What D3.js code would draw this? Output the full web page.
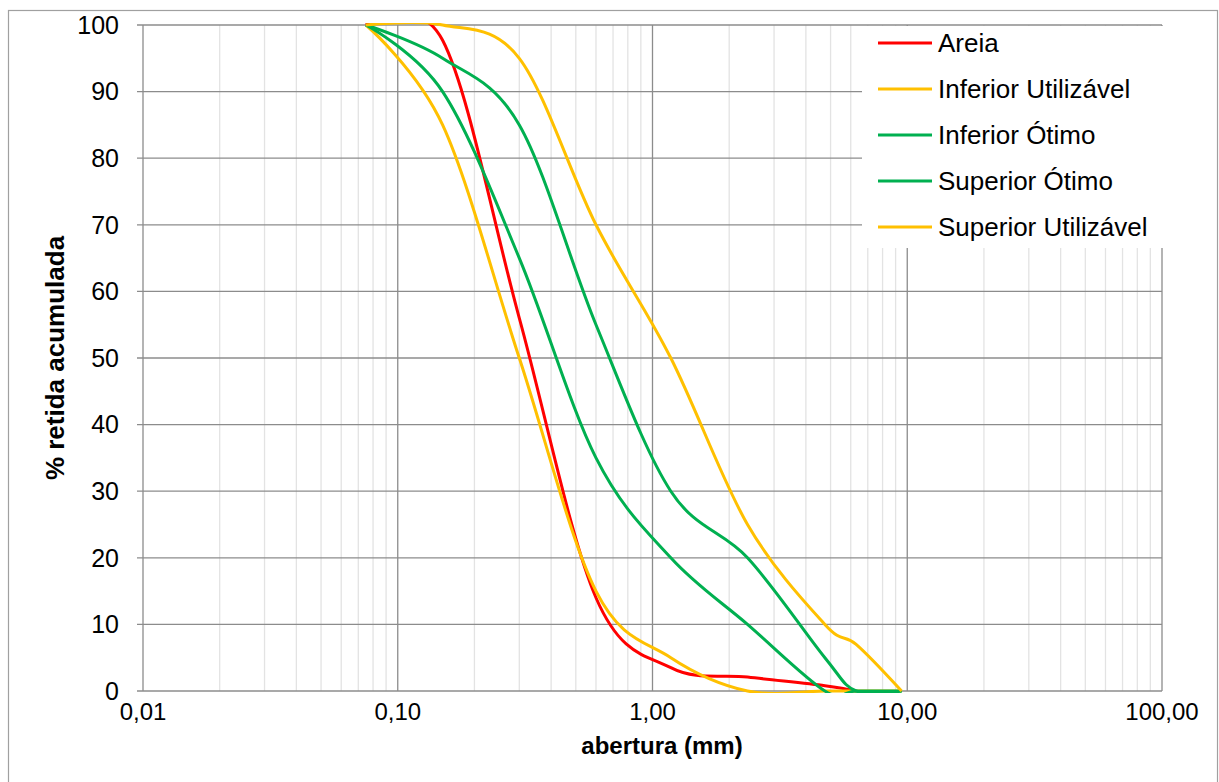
<!DOCTYPE html>
<html>
<head>
<meta charset="utf-8">
<script src="https://cdn.jsdelivr.net/npm/d3@7"></script>
<style>
  body { margin: 0; background: white; }
  text { font-family: Arial, "Liberation Sans", sans-serif; }
</style>
</head>
<body>
<div id="chart"></div>
<script>

// data (sieve openings in mm, % retained)
const sieves = [9.5, 6.3, 4.75, 2.36, 1.18, 0.6, 0.3, 0.15, 0.075];
const infUtil = [0, 0, 0, 0, 5, 15, 50, 85, 100];
const infOtimo = [0, 0, 0, 10, 20, 35, 65, 90, 100];
const supOtimo = [0, 0, 5, 20, 30, 55, 85, 95, 100];
const supUtil = [0, 7, 10, 25, 50, 70, 95, 100, 100];

const areiaSieves = [6.3, 4.75, 2.36, 1.18, 0.6, 0.3, 0.15, 0.075];
const areia = [0, 0.8, 2.1, 3.5, 14, 56, 97.7, 100];

const seriesNames = ["Areia", "Inferior Utilizável", "Inferior Ótimo", "Superior Ótimo", "Superior Utilizável"];
const seriesColors = ["#ff0000", "#ffc000", "#00b050", "#00b050", "#ffc000"];

const xTicks = [0.01, 0.1, 1, 10, 100];
const yTicks = [0, 10, 20, 30, 40, 50, 60, 70, 80, 90, 100];

//SVG
const width = 1219;
const height = 782;
const margin = {t: 25, b: 91, l: 143, r: 57};

const svg = d3.select("#chart")
    .append("svg")
    .attr("width", width)
    .attr("height", height)
    .style("background-color", "white");

const x = d3.scaleLog()
    .domain([0.01, 100])
    .range([margin.l, width - margin.r]);

const y = d3.scaleLinear()
    .domain([0, 100])
    .range([height - margin.b, margin.t]);

const ptBR = d3.formatLocale({decimal: ",", thousands: ".", grouping: [3], currency: ["R$", ""]});
const fmt = ptBR.format(".2f");

// lines are clipped to the plot area, like the spreadsheet does
svg.append("clipPath")
    .attr("id", "plotclip")
    .append("rect")
    .attr("x", x(0.01) - 2).attr("y", y(100) - 2)
    .attr("width", x(100) - x(0.01) + 4)
    .attr("height", y(0) - y(100) + 4);

// outer border
svg.append("rect")
    .attr("x", 8.5).attr("y", 10.5)
    .attr("width", 1209).attr("height", 800)
    .attr("fill", "none")
    .attr("stroke", "#a0a0a0")
    .attr("stroke-width", 1.2);

// minor vertical gridlines
const minor = [];
for (let e = -2; e < 2; e++) {
    for (let k = 2; k <= 9; k++) minor.push(k * Math.pow(10, e));
}
svg.append("g")
    .selectAll("line")
    .data(minor)
    .enter()
    .append("line")
    .attr("x1", d => x(d)).attr("x2", d => x(d))
    .attr("y1", y(0)).attr("y2", y(100))
    .attr("stroke", "#e3e3e3")
    .attr("stroke-width", 1.3);

// major gridlines
svg.append("g")
    .selectAll("line")
    .data(yTicks)
    .enter()
    .append("line")
    .attr("x1", x(0.01) - 6).attr("x2", x(100))
    .attr("y1", d => y(d)).attr("y2", d => y(d))
    .attr("stroke", "#8c8c8c")
    .attr("stroke-width", 1.3);

svg.append("g")
    .selectAll("line")
    .data(xTicks)
    .enter()
    .append("line")
    .attr("x1", d => x(d)).attr("x2", d => x(d))
    .attr("y1", y(0)).attr("y2", y(100))
    .attr("stroke", "#8c8c8c")
    .attr("stroke-width", 1.3);

// series
const allSeries = [
    {xs: areiaSieves, ys: areia},
    {xs: sieves, ys: infUtil},
    {xs: sieves, ys: infOtimo},
    {xs: sieves, ys: supOtimo},
    {xs: sieves, ys: supUtil}
];

const line = d3.line()
    .x(d => x(d[0]))
    .y(d => y(d[1]))
    .curve(d3.curveCatmullRom.alpha(0));

svg.append("g")
    .attr("clip-path", "url(#plotclip)")
    .selectAll("path")
    .data(allSeries)
    .enter()
    .append("path")
    .attr("d", d => line(d.xs.map((v, i) => [v, d.ys[i]])))
    .attr("fill", "none")
    .attr("stroke", (d, i) => seriesColors[i])
    .attr("stroke-width", 3)
    .attr("stroke-linejoin", "round");

// tick labels
svg.append("g")
    .selectAll("text")
    .data(yTicks)
    .enter()
    .append("text")
    .attr("x", 119)
    .attr("y", d => y(d))
    .attr("dy", "0.35em")
    .attr("text-anchor", "end")
    .attr("font-size", "25px")
    .text(d => d);

svg.append("g")
    .selectAll("text")
    .data(xTicks)
    .enter()
    .append("text")
    .attr("x", d => x(d))
    .attr("y", 712)
    .attr("dy", "0.35em")
    .attr("text-anchor", "middle")
    .attr("font-size", "24px")
    .text(d => fmt(d));

// axis titles
svg.append("text")
    .attr("x", 662)
    .attr("y", 746)
    .attr("dy", "0.35em")
    .attr("text-anchor", "middle")
    .attr("font-size", "24px")
    .attr("font-weight", "bold")
    .text("abertura (mm)");

svg.append("text")
    .attr("transform", `translate(55, ${y(50)}) rotate(-90)`)
    .attr("dy", "0.35em")
    .attr("text-anchor", "middle")
    .attr("font-size", "26px")
    .attr("font-weight", "bold")
    .text("% retida acumulada");

// legend
const legend = svg.append("g");
legend.append("rect")
    .attr("x", 862).attr("y", y(100) + 1)
    .attr("width", 302).attr("height", 222)
    .attr("fill", "white");

const items = legend.selectAll("g")
    .data(seriesNames)
    .enter()
    .append("g")
    .attr("transform", (d, i) => `translate(878, ${43 + i * 46})`);

items.append("line")
    .attr("x1", 0).attr("x2", 54)
    .attr("stroke", (d, i) => seriesColors[i])
    .attr("stroke-width", 3);

items.append("text")
    .attr("x", 60)
    .attr("dy", "0.35em")
    .attr("font-size", "26px")
    .text(d => d);

</script>
</body>
</html>
